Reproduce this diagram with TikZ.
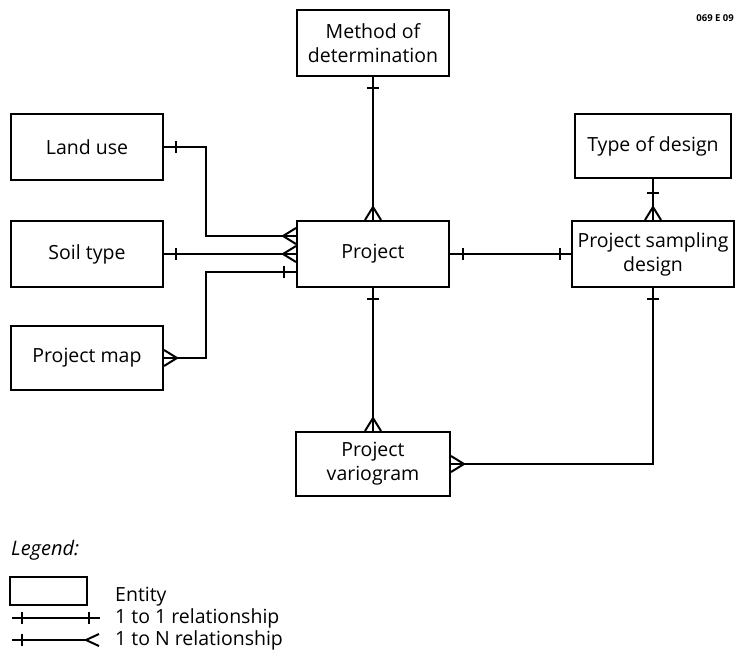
\documentclass[tikz,border=0pt]{standalone}
\usepackage{fontspec}
\setmainfont{Open Sans}
\usetikzlibrary{calc}

% relationship end marks
\newcommand\crowW[1]{\draw[link] ($(#1)+(0,-8)$) -- ++(-13,8) -- ++(13,8);}
\newcommand\crowE[1]{\draw[link] ($(#1)+(0,-8)$) -- ++(13,8) -- ++(-13,8);}
\newcommand\crowN[1]{\draw[link] ($(#1)+(-8,0)$) -- ++(8,-13) -- ++(8,13);}
\newcommand\tickH[1]{\draw[link] ($(#1)+(0,-6)$) -- ++(0,12);}
\newcommand\tickV[1]{\draw[link] ($(#1)+(-6,0)$) -- ++(12,0);}

\tikzset{
  entity/.style={draw, line width=2pt, inner sep=0pt, align=center,
                 font=\fontsize{19.5}{24}\selectfont},
  link/.style={line width=2pt},
  legendtext/.style={anchor=west, inner sep=0pt, font=\fontsize{19.5}{22}\selectfont},
}

\begin{document}
\begin{tikzpicture}[x=1pt, y=-1pt]
\useasboundingbox (0,0) rectangle (735,661);

% entities
\node[entity, minimum width=152pt, minimum height=66pt] (meth) at (373,43) {Method of\\determination};
\node[entity, minimum width=152pt, minimum height=66pt] (proj) at (373,254) {Project};
\node[entity, minimum width=152pt, minimum height=66pt] (land) at (87,147) {Land use};
\node[entity, minimum width=152pt, minimum height=66pt] (soil) at (87,254) {Soil type};
\node[entity, minimum width=152pt, minimum height=64pt] (pmap) at (87,358) {Project map};
\node[entity, minimum width=156pt, minimum height=64pt] (tod) at (653,146) {Type of design};
\node[entity, minimum width=162pt, minimum height=66pt] (psd) at (653,254) {Project sampling\\design};
\node[entity, minimum width=154pt, minimum height=64pt] (var) at (373,464) {Project\\variogram};

% bend points of the left-hand connectors
\coordinate (busx) at (206,0);
\coordinate (pA) at ($(proj.west)+(0,-18)$);
\coordinate (pC) at ($(proj.west)+(0,18)$);

% connectors
\draw[link] (meth.south) -- (proj.north);
\tickV{$(meth.south)+(0,11)$}
\crowN{proj.north}

\draw[link] (land.east) -- (land.east -| busx) |- (pA);
\tickH{$(land.east)+(12,0)$}
\crowW{pA}

\draw[link] (soil.east) -- (proj.west);
\tickH{$(soil.east)+(12,0)$}
\crowW{proj.west}

\draw[link] (pC) -| (busx |- pmap.east) -- (pmap.east);
\tickH{$(pC)+(-12,0)$}
\crowE{pmap.east}

\draw[link] (proj.east) -- (proj.east -| psd.west);
\tickH{$(proj.east)+(13,0)$}
\tickH{$(proj.east -| psd.west)+(-11,0)$}

\draw[link] (tod.south) -- (psd.north);
\tickV{$(tod.south)+(0,14)$}
\crowN{psd.north}

\draw[link] (proj.south) -- (var.north -| proj.south);
\tickV{$(proj.south)+(0,11)$}
\crowN{var.north -| proj.south}

\draw[link] (var.east) -| (psd.south);
\crowE{var.east}
\tickV{$(psd.south)+(0,11)$}

% drawing number
\node[anchor=east, inner sep=0pt, font=\fontsize{9.5}{11}\bfseries\selectfont] (code) at (734,18) {069 E 09};

% legend
\node[legendtext, font=\fontsize{20}{22}\itshape\selectfont] (lgd) at (11,550) {Legend:};
\node[draw, line width=1.6pt, minimum width=77pt, minimum height=28pt, inner sep=0pt] (lent) at (48.5,591) {};
\node[legendtext] (tent) at (115,597) {Entity};
\coordinate (l1a) at (12,618);
\coordinate (l1b) at (100,618);
\draw[link] (l1a) -- (l1b);
\tickH{$(l1a)+(10,0)$}
\tickH{$(l1b)+(-11,0)$}
\node[legendtext] (t11) at (115,618) {1 to 1 relationship};
\coordinate (l2a) at (12,640);
\coordinate (l2b) at (99,640);
\draw[link] (l2a) -- ($(l2b)+(-13,0)$);
\tickH{$(l2a)+(10,0)$}
\draw[link] ($(l2b)+(0,-6)$) -- ++(-13,6) -- ++(13,6);
\node[legendtext] (t1n) at (115,640) {1 to N relationship};
\end{tikzpicture}
\end{document}
